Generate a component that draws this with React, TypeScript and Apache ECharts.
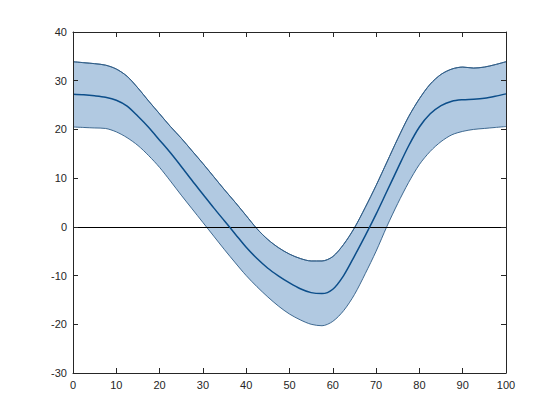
import React, { useEffect, useRef } from "react";
import * as echarts from "echarts";

const xs = [0, 2.5, 5, 7.5, 10, 12.5, 15, 17.5, 20, 22.5, 25, 27.5, 30, 32.5, 35, 37.5, 40, 42.5, 45, 47.5, 50, 52.5, 55, 57.5, 60, 62.5, 65, 67.5, 70, 72.5, 75, 77.5, 80, 82.5, 85, 87.5, 90, 92.5, 95, 97.5, 100];
const meanVals = [27.2, 27.1, 26.9, 26.6, 26.0, 24.8, 22.7, 20.4, 17.8, 15.2, 12.4, 9.5, 6.7, 3.9, 1.2, -1.5, -4.2, -6.5, -8.5, -10.1, -11.5, -12.7, -13.5, -13.7, -12.8, -10.0, -6.0, -1.8, 2.6, 7.3, 12.0, 16.6, 20.5, 23.2, 24.9, 25.8, 26.1, 26.2, 26.4, 26.8, 27.3];
const upperVals = [33.9, 33.7, 33.5, 33.2, 32.4, 30.9, 28.5, 25.8, 23.2, 20.6, 18.2, 15.6, 13.0, 10.3, 7.6, 5.0, 2.3, -0.4, -2.6, -4.3, -5.6, -6.5, -7.0, -7.0, -6.1, -3.6, -0.2, 4.0, 8.5, 13.3, 18.1, 22.6, 26.3, 29.3, 31.3, 32.4, 32.8, 32.6, 32.8, 33.3, 33.9];
const lowerVals = [20.5, 20.4, 20.3, 20.2, 19.5, 18.3, 16.7, 14.6, 12.2, 9.4, 6.5, 3.7, 0.9, -1.9, -4.7, -7.4, -10.0, -12.3, -14.4, -16.3, -17.9, -19.1, -20.0, -20.3, -19.4, -17.2, -13.9, -9.6, -5.0, 0.1, 4.8, 9.1, 12.8, 15.5, 17.5, 18.9, 19.6, 20.0, 20.2, 20.4, 20.6];
const xTicks = [0, 10, 20, 30, 40, 50, 60, 70, 80, 90, 100];
const yTicks = [-30, -20, -10, 0, 10, 20, 30, 40];

const axisColor = "#262626";
const fontFamily = "'Liberation Sans', Arial, sans-serif";

export default function App() {
  const ref = useRef<HTMLDivElement>(null);
  useEffect(() => {
    if (!ref.current) return;
    const chart = echarts.init(ref.current, null, { renderer: "svg" });
    const pair = (arr: number[]) => xs.map((x, i) => [x, arr[i]]);
    const xMin = xTicks[0];
    const xMax = xTicks[xTicks.length - 1];
    const yMin = yTicks[0];
    const yMax = yTicks[yTicks.length - 1];
    const sm = 0.3;
    const baseX = {
      type: "value" as const,
      min: xMin,
      max: xMax,
      interval: 10,
      z: 10,
      splitLine: { show: false },
      axisLine: { show: true, onZero: false, lineStyle: { color: axisColor, width: 1 } },
      axisTick: { show: true, inside: true, length: 5, lineStyle: { color: axisColor } },
    };
    const baseY = {
      type: "value" as const,
      min: yMin,
      max: yMax,
      interval: 10,
      z: 10,
      splitLine: { show: false },
      axisLine: { show: true, onZero: false, lineStyle: { color: axisColor, width: 1 } },
      axisTick: { show: true, inside: true, length: 5, lineStyle: { color: axisColor } },
    };
    chart.setOption({
      animation: false,
      backgroundColor: "#ffffff",
      grid: { left: 73, right: 54, top: 32, bottom: 47, containLabel: false },
      xAxis: [
        {
          ...baseX,
          position: "bottom",
          axisLabel: { color: axisColor, fontSize: 11, fontFamily, margin: 6 },
        },
        {
          ...baseX,
          position: "top",
          axisLabel: { show: false },
        },
      ],
      yAxis: [
        {
          ...baseY,
          position: "left",
          axisLabel: { color: axisColor, fontSize: 11, fontFamily, margin: 6 },
        },
        {
          ...baseY,
          position: "right",
          axisLabel: { show: false },
        },
      ],
      series: [
        {
          type: "line",
          name: "bandTop",
          data: pair(upperVals),
          smooth: sm,
          symbol: "none",
          lineStyle: { color: "#2e5b86", width: 0.9 },
          areaStyle: { color: "#b1c9e1", opacity: 1, origin: "start" },
          silent: true,
          z: 2,
        },
        {
          type: "line",
          name: "bandBottom",
          data: pair(lowerVals),
          smooth: sm,
          symbol: "none",
          lineStyle: { color: "#2e5b86", width: 0.9 },
          areaStyle: { color: "#ffffff", opacity: 1, origin: "start" },
          silent: true,
          z: 3,
        },
        {
          type: "line",
          name: "upper",
          data: pair(upperVals),
          smooth: sm,
          symbol: "none",
          lineStyle: { color: "#2e5b86", width: 0.9 },
          silent: true,
          z: 4,
        },
        {
          type: "line",
          name: "mean",
          data: pair(meanVals),
          smooth: sm,
          symbol: "none",
          lineStyle: { color: "#0c4e8a", width: 1.5 },
          silent: true,
          z: 5,
          markLine: {
            silent: true,
            symbol: "none",
            label: { show: false },
            lineStyle: { color: "#000000", width: 1, type: "solid" },
            data: [{ yAxis: 0 }],
          },
        },
      ],
    });
    return () => chart.dispose();
  }, []);
  return (
    <div
      ref={ref}
      style={{ position: "fixed", left: 0, top: 0, width: 560, height: 420, background: "#fff" }}
    />
  );
}
